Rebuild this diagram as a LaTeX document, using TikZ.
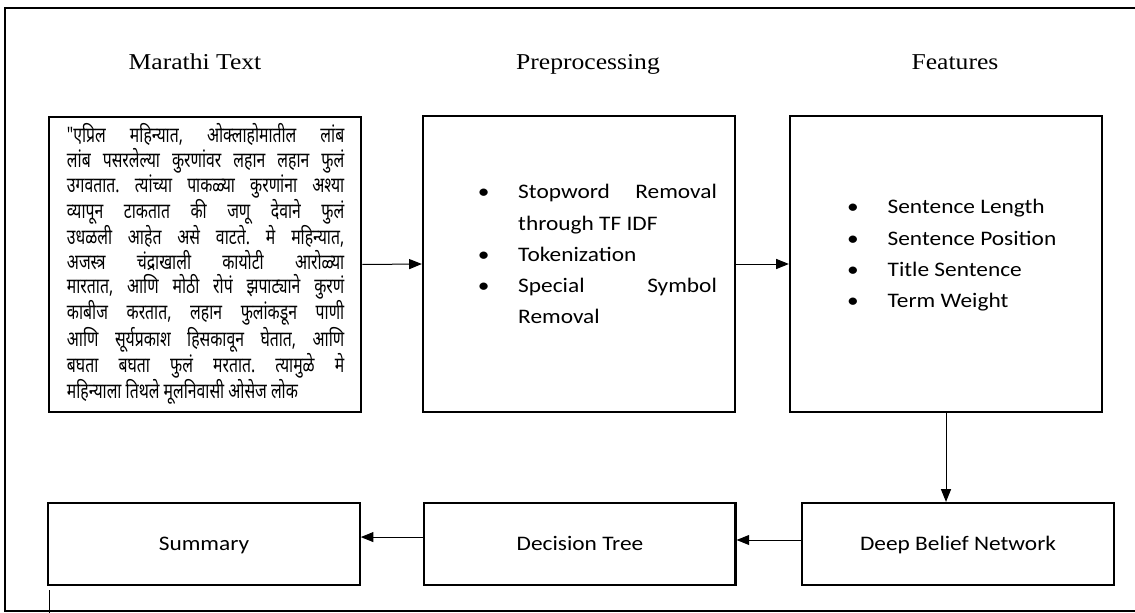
\documentclass[tikz,border=0pt]{standalone}
\usepackage{fontspec}
\setmainfont{Liberation Serif}
\newfontfamily\titlefont{Liberation Serif}[FakeStretch=1.13]
\newfontfamily\calfont{Carlito}[FakeStretch=1.13]
\newfontfamily\marathifont{Noto Sans}[Script=Devanagari,FakeStretch=0.74]
\usetikzlibrary{arrows.meta}

% bullet lines of the two list boxes
\newcommand{\itm}{\makebox[0pt]{\textbullet}\hspace*{26pt}}
\newcommand{\cnt}{\hspace*{26pt}}
% one justified line of the Marathi paragraph
\newcommand{\jl}[1]{\makebox[208pt][s]{#1}}

\begin{document}
\begin{tikzpicture}[x=0.75pt,y=-0.75pt,
  box/.style={draw, line width=1.7pt, inner sep=0pt},
  bigbox/.style={box, minimum width=234pt, minimum height=221.5pt},
  smallbox/.style={box, minimum width=233.5pt, minimum height=61.5pt},
  headtext/.style={font=\titlefont\fontsize{17}{20}\selectfont, anchor=base, inner sep=0pt},
  boxtext/.style={font=\calfont\fontsize{15.5}{18}\selectfont, anchor=base, inner sep=0pt},
  listtext/.style={font=\calfont\fontsize{15.5}{23.4}\selectfont, anchor=base west, inner sep=0pt},
  flow/.style={line width=0.75pt, -{Triangle[length=9.5pt,width=7.5pt]}}]
\useasboundingbox (0,0) rectangle (1135,613);
% outer frame (open on the right)
\draw[line width=1.2pt] (1135,8) -- (5,8) -- (5,611) -- (1135,611);
\draw[line width=0.6pt] (49,590) -- (49,613);

% column headings
\node[headtext] (srctitle) at (195,70) {Marathi Text};
\node[headtext] (pretitle) at (588,70) {Preprocessing};
\node[headtext] (feattitle) at (955,70) {Features};

% upper row
\node[bigbox] (src) at (205.25,264.5) {};
\node[bigbox] (pre) at (579,264) {};
\node[bigbox] (feat) at (946,264) {};

\node[anchor=base west, inner sep=0pt] (srctext) at (66.7,143) {\parbox[t]{208pt}{%
\marathifont\fontsize{16}{18.4}\selectfont\frenchspacing
\jl{"एप्रिल महिन्यात, ओक्लाहोमातील लांब}\\
\jl{लांब पसरलेल्या कुरणांवर लहान लहान फुलं}\\
\jl{उगवतात. त्यांच्या पाकळ्या कुरणांना अश्या}\\
\jl{व्यापून टाकतात की जणू देवाने फुलं}\\
\jl{उधळली आहेत असे वाटते. मे महिन्यात,}\\
\jl{अजस्त्र चंद्राखाली कायोटी आरोळ्या}\\
\jl{मारतात, आणि मोठी रोपं झपाट्याने कुरणं}\\
\jl{काबीज करतात, लहान फुलांकडून पाणी}\\
\jl{आणि सूर्यप्रकाश हिसकावून घेतात, आणि}\\
\jl{बघता बघता फुलं मरतात. त्यामुळे मे}\\
महिन्याला तिथले मूलनिवासी ओसेज लोक}};

\node[listtext] (prelist) at (483.3,199) {\parbox[t]{200pt}{%
\itm\makebox[149pt][s]{Stopword Removal}\\
\cnt through TF IDF\\
\itm Tokenization\\
\itm\makebox[149pt][s]{Special Symbol}\\
\cnt Removal}};

\node[listtext] (featlist) at (852.7,214) {\parbox[t]{200pt}{%
\itm Sentence Length\\
\itm Sentence Position\\
\itm Title Sentence\\
\itm Term Weight}};

% lower row
\node[smallbox] (sum) at (204,544) {};
\node[smallbox] (dt) at (579.75,544) {};
\node[smallbox] (dbn) at (958,544) {};
\node[boxtext] (sumtext) at (204,550) {Summary};
\node[boxtext] (dttext) at (580,550) {Decision Tree};
\node[boxtext] (dbntext) at (958,550) {Deep Belief Network};

% connectors
\draw[flow] (src.east) -- (pre.west);
\draw[flow] (pre.east) -- (feat.west);
\draw[flow] (feat.south) -- (feat.south |- dbn.north);
\draw[flow] ([yshift=3pt]dbn.west) -- ([yshift=3pt]dbn.west -| dt.east);
\draw[flow] ([yshift=5.2pt]dt.west) -- ([yshift=5.2pt]dt.west -| sum.east);
\end{tikzpicture}
\end{document}
